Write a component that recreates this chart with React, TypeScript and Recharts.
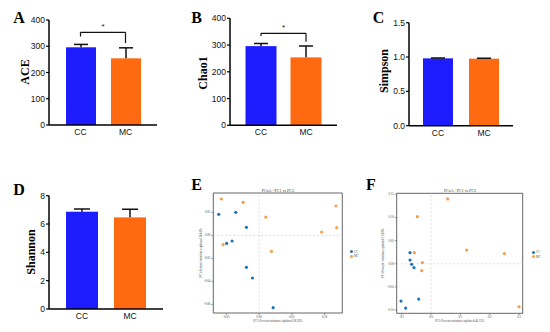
import React from 'react';
import {
  BarChart, Bar, XAxis, YAxis, ReferenceLine, ScatterChart, Scatter, ReferenceArea,
} from 'recharts';

// ---------- data ----------
const groups = ['CC', 'MC'];

const aceMeans = [296, 254];
const aceErr = [11, 40];
const aceTicks = [0, 100, 200, 300, 400];
const aceBracket = [337, 353, 312]; // left foot, bar, right foot

const chaoMeans = [296, 254];
const chaoErr = [10, 42];
const chaoTicks = [0, 100, 200, 300, 400];
const chaoBracket = [334, 344, 312];

const simpsonMeans = [0.981, 0.976];
const simpsonErr = [0.006, 0.008];
const simpsonTicks = [0, 0.5, 1.0, 1.5];

const shannonMeans = [6.87, 6.47];
const shannonErr = [0.19, 0.57];
const shannonTicks = [0, 2, 4, 6, 8];

// PCoA E (PC1 vs PC3)
const eCCx = [-0.0617, -0.0357, -0.0194, -0.0495, -0.0413, -0.0194, -0.0102, 0.0214];
const eCCy = [0.0183, 0.02, 0.007, -0.007, -0.0049, -0.0278, -0.0371, -0.0629];
const eMCx = [-0.0577, -0.0245, 0.0102, 0.1173, 0.0954, 0.1184, -0.0551, 0.0189];
const eMCy = [0.0316, 0.0287, 0.0159, 0.0255, 0.0029, 0.0067, -0.0081, -0.0139];
const eXTicks = [-0.05, 0, 0.05, 0.1];
const eYTicks = [-0.06, -0.04, -0.02, 0, 0.02];

// PCoA F
const fCCx = [-0.0716, -0.0716, -0.0659, -0.058, -0.1023, -0.042, -0.0864];
const fCCy = [0.0238, 0.0079, -0.0014, -0.0086, -0.0807, -0.0764, -0.0958];
const fMCx = [0.0568, -0.0466, 0.1216, 0.25, -0.0568, -0.0295, -0.0318, 0.3];
const fMCy = [0.1398, 0.1016, 0.0295, 0.0216, 0.0238, 0.0022, -0.0151, -0.093];
const fXTicks = [-0.1, 0, 0.1, 0.2, 0.3];
const fYTicks = [-0.1, -0.05, 0, 0.05, 0.1, 0.15];

// ---------- styles ----------
const barColors = ['#1c1cff', '#ff6a10'];
const ccColor = '#2273b5';
const mcColor = '#f6a04d';
const sans = '"Liberation Sans", Arial, sans-serif';
const serif = '"Liberation Serif", "Times New Roman", serif';

const BarWithErr = (props: any) => {
  const { x, y, width, height, payload, whisker } = props;
  const i = groups.indexOf(payload.g);
  const pxPerUnit = height / payload.v;
  const top = y - payload.e * pxPerUnit;
  const cx = x + width / 2;
  return (
    <g>
      <rect x={x} y={y} width={width} height={height} fill={barColors[i]} />
      <line x1={cx} y1={y} x2={cx} y2={top} stroke="#111" strokeWidth={1.5} />
      <line x1={cx - whisker} y1={top} x2={cx + whisker} y2={top} stroke="#111" strokeWidth={1.5} />
    </g>
  );
};

function BarPanel(p: any) {
  const data = groups.map((g, i) => ({ g, v: p.means[i], e: p.errs[i] }));
  const tickStyle = { fill: '#111', fontSize: 8.5, fontFamily: sans };
  return (
    <div style={{ position: 'absolute', left: p.left, top: p.top }}>
      <BarChart width={p.width} height={p.height} data={data} margin={p.margin}>
        <XAxis
          dataKey="g"
          padding={{ left: p.pad, right: p.pad }}
          tickLine={false}
          tickSize={2}
          tickMargin={2}
          height={p.xHeight}
          interval={0}
          axisLine={{ stroke: '#000', strokeWidth: 1.5 }}
          tick={tickStyle}
        />
        <YAxis
          width={p.yWidth}
          domain={[p.ticks[0], p.ticks[p.ticks.length - 1]]}
          ticks={p.ticks}
          interval={0}
          allowDataOverflow
          tickFormatter={p.fmt}
          axisLine={{ stroke: '#000', strokeWidth: 1.5 }}
          tickLine={{ stroke: '#000', strokeWidth: 1.2 }}
          tickSize={3}
          tickMargin={1}
          tick={tickStyle}
        />
        <Bar
          dataKey="v"
          barSize={p.barSize}
          isAnimationActive={false}
          shape={(sp: any) => <BarWithErr {...sp} whisker={p.whisker} />}
        />
        {p.bracket && (
          <ReferenceLine
            segment={[{ x: 'CC', y: p.bracket[1] }, { x: 'MC', y: p.bracket[1] }]}
            stroke="#111"
            strokeWidth={1.2}
            label={{ value: '*', position: 'top', offset: 3, fontSize: 8, fill: '#111', fontFamily: sans }}
          />
        )}
        {p.bracket && (
          <ReferenceLine
            segment={[{ x: 'CC', y: p.bracket[1] }, { x: 'CC', y: p.bracket[0] }]}
            stroke="#111"
            strokeWidth={1.2}
          />
        )}
        {p.bracket && (
          <ReferenceLine
            segment={[{ x: 'MC', y: p.bracket[1] }, { x: 'MC', y: p.bracket[2] }]}
            stroke="#111"
            strokeWidth={1.2}
          />
        )}
      </BarChart>
    </div>
  );
}

const dot = (color: string) => (props: any) => (
  <circle cx={props.cx} cy={props.cy} r={1.6} fill={color} />
);

function PcoaPanel(p: any) {
  const cc = p.ccx.map((x: number, i: number) => ({ x, y: p.ccy[i] }));
  const mc = p.mcx.map((x: number, i: number) => ({ x, y: p.mcy[i] }));
  const small = { fill: '#444', fontSize: 3, fontFamily: serif };
  return (
    <div style={{ position: 'absolute', left: p.left, top: p.top }}>
      <ScatterChart width={p.width} height={p.height} margin={p.margin}>
        <XAxis
          type="number"
          dataKey="x"
          domain={p.xDomain}
          ticks={p.xTicks}
          interval={0}
          allowDataOverflow
          tickFormatter={p.xFmt}
          axisLine={false}
          tickLine={{ stroke: '#555', strokeWidth: 0.6 }}
          tickSize={2}
          tickMargin={1}
          height={12}
          tick={small}
          label={{ value: p.xLabel, position: 'insideBottom', offset: 3, ...small }}
        />
        <YAxis
          type="number"
          dataKey="y"
          domain={p.yDomain}
          ticks={p.yTicks}
          interval={0}
          allowDataOverflow
          tickFormatter={p.yFmt}
          axisLine={false}
          tickLine={{ stroke: '#555', strokeWidth: 0.6 }}
          tickSize={2}
          tickMargin={1}
          width={p.yWidth}
          tick={small}
          label={{ value: p.yLabel, angle: -90, position: 'center', dx: p.yLabelDx, ...small }}
        />
        <ReferenceLine x={0} stroke="#d0d0d0" strokeWidth={0.7} strokeDasharray="2 2" />
        <ReferenceLine y={0} stroke="#d0d0d0" strokeWidth={0.7} strokeDasharray="2 2" />
        <ReferenceArea
          x1={p.xDomain[0]}
          x2={p.xDomain[1]}
          y1={p.yDomain[0]}
          y2={p.yDomain[1]}
          fill="none"
          stroke="#555"
          strokeWidth={0.9}
          ifOverflow="visible"
        />
        <Scatter data={cc} isAnimationActive={false} shape={dot(ccColor)} />
        <Scatter data={mc} isAnimationActive={false} shape={dot(mcColor)} />
      </ScatterChart>
    </div>
  );
}

const Letter = ({ x, y, t }: any) => (
  <div
    style={{
      position: 'absolute', left: x, top: y, transform: 'translate(-50%, -50%)',
      fontFamily: serif, fontWeight: 'bold', fontSize: 16, lineHeight: 1, color: '#000',
    }}
  >
    {t}
  </div>
);

const YTitle = ({ x, y, t }: any) => (
  <div
    style={{
      position: 'absolute', left: x, top: y, transform: 'translate(-50%, -50%) rotate(-90deg)',
      fontFamily: serif, fontWeight: 'bold', fontSize: 12, lineHeight: 1, whiteSpace: 'nowrap', color: '#000',
    }}
  >
    {t}
  </div>
);

const Title = ({ x, y, t }: any) => (
  <div
    style={{
      position: 'absolute', left: x, top: y, transform: 'translate(-50%, -50%)',
      fontFamily: serif, fontSize: 4, lineHeight: 1, whiteSpace: 'nowrap', color: '#333',
    }}
  >
    {t}
  </div>
);

const MiniLegend = ({ x, y }: any) => (
  <div style={{ position: 'absolute', left: x, top: y, fontFamily: serif, fontSize: 3, lineHeight: '4.6px', color: '#444' }}>
    {groups.map((g, i) => (
      <div key={g} style={{ display: 'flex', alignItems: 'center', whiteSpace: 'nowrap' }}>
        <span style={{ display: 'inline-block', width: 3, height: 3, borderRadius: '50%', background: i === 0 ? ccColor : mcColor, marginRight: 1.5 }} />
        {g}
      </div>
    ))}
  </div>
);

const f0 = (v: number) => String(v);
const f1 = (v: number) => v.toFixed(1);
const f2 = (v: number) => v.toFixed(2);

export default function App() {
  return (
    <div style={{ position: 'absolute', left: 0, top: 0, width: 550, height: 332, background: '#fff', overflow: 'hidden' }}>
      <BarPanel left={0} top={0} width={180} height={160}
        margin={{ top: 20, right: 23, bottom: 5, left: 0 }} yWidth={49} xHeight={30} pad={9} barSize={30} whisker={7}
        means={aceMeans} errs={aceErr} ticks={aceTicks} fmt={f0} bracket={aceBracket} />
      <BarPanel left={180} top={0} width={180} height={160}
        margin={{ top: 18.3, right: 23, bottom: 4.7, left: 0 }} yWidth={50} xHeight={30} pad={8.5} barSize={31} whisker={7}
        means={chaoMeans} errs={chaoErr} ticks={chaoTicks} fmt={f0} bracket={chaoBracket} />
      <BarPanel left={360} top={0} width={190} height={160}
        margin={{ top: 22.7, right: 37, bottom: 4.3, left: 0 }} yWidth={49} xHeight={30} pad={6} barSize={30} whisker={7}
        means={simpsonMeans} errs={simpsonErr} ticks={simpsonTicks} fmt={f1} />
      <BarPanel left={0} top={160} width={180} height={172}
        margin={{ top: 35.7, right: 17, bottom: 3, left: 0 }} yWidth={49} xHeight={20} pad={9} barSize={32} whisker={8}
        means={shannonMeans} errs={shannonErr} ticks={shannonTicks} fmt={f0} />

      <PcoaPanel left={180} top={170} width={190} height={162}
        margin={{ top: 23, right: 27.7, bottom: 7, left: 0 }} yWidth={33.3} yLabelDx={4}
        xDomain={[-0.07, 0.127]} yDomain={[-0.0675, 0.0368]} xTicks={eXTicks} yTicks={eYTicks} xFmt={f2} yFmt={f2}
        ccx={eCCx} ccy={eCCy} mcx={eMCx} mcy={eMCy}
        xLabel="PC1-Percent variation explained 38.59%" yLabel="PC3-Percent variation explained 14.63%" />
      <PcoaPanel left={370} top={170} width={180} height={162}
        margin={{ top: 23.3, right: 27.3, bottom: 6.7, left: 0 }} yWidth={26.7} yLabelDx={0}
        xDomain={[-0.117, 0.3125]} yDomain={[-0.107, 0.152]} xTicks={fXTicks} yTicks={fYTicks} xFmt={f1} yFmt={f2}
        ccx={fCCx} ccy={fCCy} mcx={fMCx} mcy={fMCy}
        xLabel="PC1-Percent variation explained 46.13%" yLabel="PC3-Percent variation explained 11.69%" />

      <Title x={277.8} y={190.7} t="PCoA - PC1 vs PC3" />
      <Title x={460} y={190.7} t="PCoA - PC1 vs PC3" />
      <MiniLegend x={349.5} y={249.5} />
      <MiniLegend x={531.5} y={250} />

      <Letter x={19} y={18} t="A" />
      <Letter x={196.5} y={18} t="B" />
      <Letter x={378.5} y={18} t="C" />
      <Letter x={19} y={190} t="D" />
      <Letter x={196.5} y={185} t="E" />
      <Letter x={371} y={185} t="F" />

      <YTitle x={24.5} y={72} t="ACE" />
      <YTitle x={202.5} y={73} t="Chao1" />
      <YTitle x={384} y={71} t="Simpson" />
      <YTitle x={30.5} y={252} t="Shannon" />
    </div>
  );
}
